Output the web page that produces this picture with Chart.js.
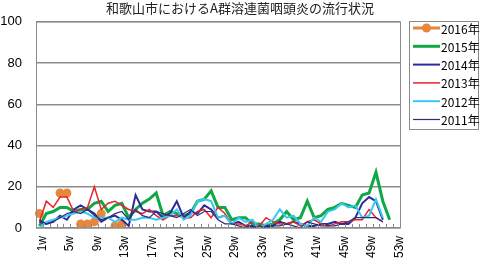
<!DOCTYPE html>
<html>
<head>
<meta charset="utf-8">
<script src="https://cdn.jsdelivr.net/npm/chart.js@4.4.0/dist/chart.umd.min.js"></script>
<style>
html, body { margin: 0; padding: 0; background: #fff; }
#wrap { width: 480px; height: 261px; }
</style>
</head>
<body>
<div id="wrap"><canvas id="chart" width="480" height="261"></canvas></div>
<script>
const weeks = ['1w','2w','3w','4w','5w','6w','7w','8w','9w','10w','11w','12w','13w','14w','15w','16w','17w','18w',
	'19w','20w','21w','22w','23w','24w','25w','26w','27w','28w','29w','30w','31w','32w','33w','34w','35w','36w',
	'37w','38w','39w','40w','41w','42w','43w','44w','45w','46w','47w','48w','49w','50w','51w','52w','53w'];

const y2016 = [7, null, null, 17, 17, null, 2, 2, 3, 7, null, 1, 2];
const y2015 = [1, 7, 8, 10, 10, 8, 9, 9, 12, 13, 8, 11, 12, 5, 9, 12, 14, 17, 6, 8, 7, 6, 7, 13, 14, 18,
	10, 10, 4, 5, 5, 2, 2, 1, 2, 4, 8, 4, 5, 13, 5, 6, 9, 10, 12, 11, 10, 16, 17, 27, 13, 4];
const y2014 = [3, 2, 3, 6, 4, 9, 11, 9, 7, 3, 5, 6, 4, 1, 16, 9, 8, 8, 5, 7, 13, 5, 8, 7, 11, 9,
	5, 6, 2, 3, 1, 1, 0, 1, 1, 3, 2, 3, 2, 1, 1, 2, 2, 3, 2, 2, 5, 12, 15, 13, 4];
const y2013 = [3, 13, 10, 15, 15, 8, 9, 10, 20, 9, 12, 13, 11, 9, 8, 7, 9, 6, 4, 6, 6, 5, 5, 8, 9, 5,
	10, 7, 2, 2, 1, 3, 1, 5, 3, 2, 2, 3, 1, 3, 4, 2, 1, 2, 3, 3, 4, 4, 9, 5, 3];
const y2012 = [0, 3, 4, 5, 6, 7, 8, 7, 5, 5, 5, 3, 5, 4, 4, 5, 5, 4, 5, 6, 9, 4, 6, 13, 14, 13,
	5, 6, 2, 5, 3, 4, 0, 2, 4, 9, 5, 6, 2, 1, 5, 3, 8, 9, 12, 10, 11, 5, 6, 14, 5];
const y2011 = [4, 2, 3, 5, 7, 8, 7, 9, 6, 4, 5, 7, 8, 4, 9, 6, 5, 8, 7, 6, 5, 7, 9, 6, 8, 8,
	4, 2, 2, 1, 0, 0, 1, 0, 1, 1, 2, 1, 0, 3, 2, 1, 1, 1, 2, 3, 5, 5, 5, 5, 3];
const yTicks = [0, 20, 40, 60, 80, 100];

const plot_frame = {
	id: 'plot_frame',
	afterDatasetsDraw(chart) {
		const ctx = chart.ctx, a = chart.chartArea, x = chart.scales.x;
		ctx.save();
		ctx.strokeStyle = '#8a8a8a';
		ctx.lineWidth = 1;
		ctx.strokeRect(a.left + 0.5, a.top, a.right - a.left, a.bottom - a.top);
		// small inside tick marks at category boundaries
		ctx.beginPath();
		for (let i = 0; i <= weeks.length; i++) {
			const px = Math.round(x.getPixelForValue(i - 0.5)) + 0.5;
			ctx.moveTo(px, a.bottom);
			ctx.lineTo(px, a.bottom - 4);
		}
		ctx.stroke();
		ctx.restore();
	}
};

const box_legend = {
	id: 'box_legend',
	afterDraw(chart) {
		const ctx = chart.ctx;
		ctx.save();
		ctx.fillStyle = '#fff';
		ctx.fillRect(409, 21, 70, 108);
		ctx.strokeStyle = '#8a8a8a';
		ctx.lineWidth = 1;
		ctx.strokeRect(409.5, 21.5, 69, 108);
		ctx.font = '12px "Noto Sans CJK JP", sans-serif';
		ctx.textBaseline = 'middle';
		// datasets are stored newest-last for drawing order; legend lists newest first
		chart.data.datasets.slice().reverse().forEach((ds, i) => {
			const y = 28 + i * 18.3;
			ctx.strokeStyle = ds.borderColor;
			ctx.lineWidth = ds.borderWidth;
			ctx.beginPath();
			ctx.moveTo(413, y);
			ctx.lineTo(440, y);
			ctx.stroke();
			if (ds.pointRadius > 0) {
				ctx.fillStyle = ds.pointBackgroundColor;
				ctx.beginPath();
				ctx.arc(426.5, y, ds.pointRadius, 0, Math.PI * 2);
				ctx.fill();
			}
			ctx.fillStyle = '#000';
			ctx.fillText(ds.label, 441, y + 1);
		});
		ctx.restore();
	}
};

new Chart(document.getElementById('chart'), {
	type: 'line',
	data: {
		labels: weeks,
		datasets: [
			{label: '2016年', data: y2016, borderColor: '#e8873c', backgroundColor: '#e8873c', borderWidth: 3,
				pointRadius: 4.5, pointBackgroundColor: '#e8873c', pointBorderWidth: 0, spanGaps: false},
			{label: '2015年', data: y2015, borderColor: '#10a844', borderWidth: 3, pointRadius: 0},
			{label: '2014年', data: y2014, borderColor: '#2b2b9c', borderWidth: 2, pointRadius: 0},
			{label: '2013年', data: y2013, borderColor: '#e8242a', borderWidth: 1.5, pointRadius: 0},
			{label: '2012年', data: y2012, borderColor: '#38c8f4', borderWidth: 2, pointRadius: 0},
			{label: '2011年', data: y2011, borderColor: '#2e2e7e', borderWidth: 1.2, pointRadius: 0}
		].reverse()
	},
	options: {
		responsive: false,
		animation: false,
		layout: {padding: 0},
		plugins: {
			legend: {display: false},
			tooltip: {enabled: false},
			title: {
				display: true,
				text: '和歌山市におけるA群溶連菌咽頭炎の流行状況',
				color: '#222',
				font: {family: '"Noto Sans CJK JP", sans-serif', size: 13, weight: 'normal'},
				padding: {top: 0, bottom: 6}
			}
		},
		scales: {
			x: {
				offset: true,
				grid: {display: false, drawTicks: false},
				border: {display: false},
				afterFit(scale) { scale.height = 33; },
				ticks: {
					autoSkip: false, minRotation: 90, maxRotation: 90, padding: 8, labelOffset: 3,
					color: '#000', font: {family: '"Liberation Sans", Arial, sans-serif', size: 12},
					callback: (v, i) => i % 4 === 0 ? weeks[i] : ''
				}
			},
			y: {
				min: 0, max: 100,
				afterBuildTicks(scale) { scale.ticks = yTicks.map(v => ({value: v})); },
				afterFit(scale) { scale.width = 36; },
				grid: {color: '#8c8c8c', lineWidth: 1.5, drawTicks: false},
				border: {display: false},
				ticks: {padding: 14, color: '#000', font: {family: '"Liberation Sans", Arial, sans-serif', size: 13}}
			},
			// empty right-hand axis reserves the room the legend box sits in
			side: {
				position: 'right', min: 0, max: 100,
				afterFit(scale) { scale.width = 80; },
				grid: {display: false, drawTicks: false},
				border: {display: false},
				ticks: {display: false}
			}
		}
	},
	plugins: [plot_frame, box_legend]
});
</script>
</body>
</html>
